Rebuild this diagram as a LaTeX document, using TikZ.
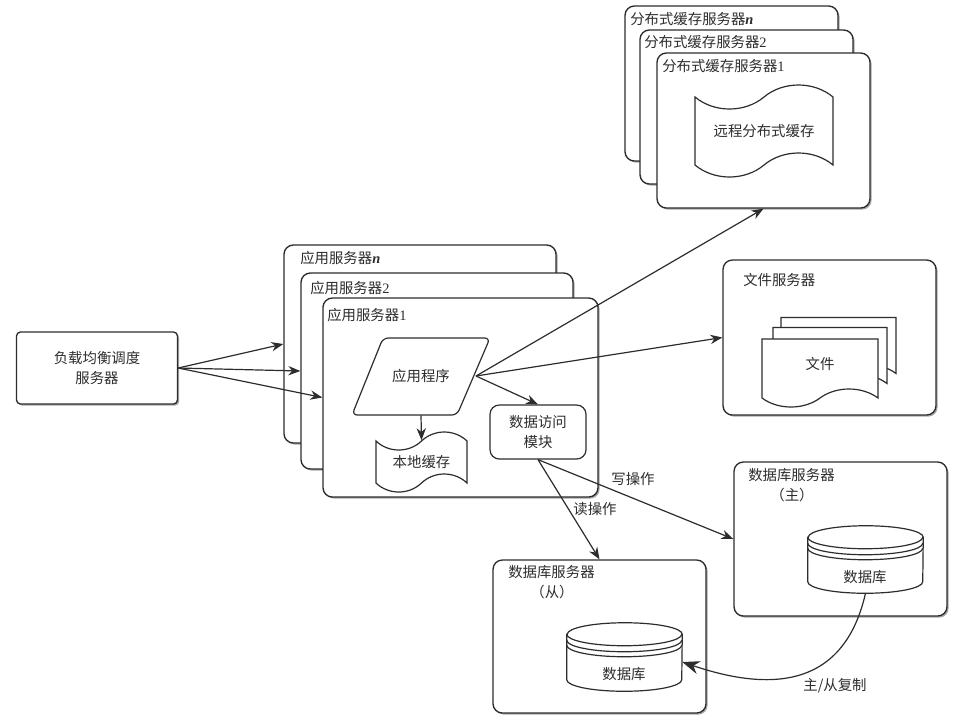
\documentclass[tikz,border=0pt]{standalone}
\usepackage{fontspec}
\setmainfont{Noto Sans CJK SC}
\newfontfamily\numfont{Liberation Serif}
\definecolor{inkgray}{RGB}{45, 45, 45}
\usetikzlibrary{shapes, shapes.symbols, arrows.meta, shadows}
\def\px{0.75pt}
\newcommand{\dbdrum}[1]{
  \draw[inkgray, fill=white, line width=.9pt] ([yshift=-11.5*\px]#1.north west) -- ([yshift=11.5*\px]#1.south west) arc[start angle=180, end angle=360, x radius=57.5*\px, y radius=11.5*\px] -- ([yshift=-11.5*\px]#1.north east) arc[start angle=0, end angle=180, x radius=57.5*\px, y radius=11.5*\px] -- cycle;
  \draw[inkgray, line width=.9pt] ([yshift=-11.5*\px]#1.north west) arc[start angle=180, end angle=360, x radius=57.5*\px, y radius=11.5*\px];
  \draw[inkgray, line width=.9pt] ([yshift=-17.5*\px]#1.north west) arc[start angle=180, end angle=360, x radius=57.5*\px, y radius=11.5*\px];
  \draw[inkgray, line width=.9pt] ([yshift=-22.5*\px]#1.north west) arc[start angle=180, end angle=360, x radius=57.5*\px, y radius=11.5*\px];
}
\tikzset{
  serverbox/.style={draw=inkgray, fill=white, line width=1pt, rounded corners=7pt, drop shadow={shadow xshift=1.2pt, shadow yshift=-1.2pt, fill=black, opacity=.35}},
  boxlabel/.style={anchor=west, inner sep=0pt, text=inkgray, font=\fontsize{10.8}{13}\selectfont},
  wavedoc/.style={tape, draw=inkgray, fill=white, line width=.9pt, tape bend height=18*\px, inner sep=0pt, text=inkgray, font=\fontsize{10.8}{13}\selectfont},
  dbdisk/.style={minimum width=115*\px, minimum height=67*\px, inner sep=0pt},
  linkarrow/.style={-{Stealth[length=9pt, width=7pt]}, draw=inkgray, line width=.9pt}
}
\begin{document}
\begin{tikzpicture}[x=0.75pt, y=-0.75pt]
  \useasboundingbox[fill=white] (0, 0) rectangle (956, 719);

  % Load balancer
  \node[serverbox, rounded corners=3pt, minimum width=161*\px, minimum height=72*\px, align=center, text=inkgray, font=\fontsize{10.8}{15.5}\selectfont] (balancer) at (97, 368) {负载均衡调度\\服务器};

  % Application servers
  \node[serverbox, minimum width=272*\px, minimum height=198*\px] (appn) at (420, 344) {};
  \node[boxlabel] (appnlabel) at (300, 258) {应用服务器{\numfont\bfseries\itshape n}};
  \node[serverbox, minimum width=272*\px, minimum height=196*\px] (apptwo) at (437, 371) {};
  \node[boxlabel] (apptwolabel) at (310, 288) {应用服务器{\numfont 2}};
  \node[serverbox, minimum width=275*\px, minimum height=199*\px] (appone) at (460.5, 397.5) {};
  \node[boxlabel] (apponelabel) at (327, 315) {应用服务器{\numfont 1}};
  \draw[inkgray, fill=white, line width=.9pt, rounded corners=4pt] (383, 338) -- (490, 338) -- (457, 415) -- (352, 415) -- cycle;
  \node[minimum width=138*\px, minimum height=77*\px, inner sep=0pt, text=inkgray, font=\fontsize{10.8}{13}\selectfont] (program) at (421, 376.5) {应用程序};
  \coordinate (programtip) at (476, 376);
  \node[wavedoc, minimum width=91*\px, minimum height=60*\px] (localcache) at (421.5, 462) {本地缓存};
  \node[draw=inkgray, fill=white, line width=.9pt, rounded corners=7pt, minimum width=96*\px, minimum height=54*\px, align=center, inner sep=0pt, text=inkgray, font=\fontsize{10.8}{14.5}\selectfont] (dataaccess) at (538, 432) {数据访问\\模块};

  % Distributed cache servers
  \node[serverbox, minimum width=213*\px, minimum height=155*\px] (cachen) at (731.5, 83.5) {};
  \node[boxlabel] (cachenlabel) at (630, 19) {分布式缓存服务器{\numfont\bfseries\itshape n}};
  \node[serverbox, minimum width=213*\px, minimum height=154*\px] (cachetwo) at (746.5, 107) {};
  \node[boxlabel] (cachetwolabel) at (644, 42) {分布式缓存服务器{\numfont 2}};
  \node[serverbox, minimum width=213*\px, minimum height=155*\px] (cacheone) at (763.5, 130.5) {};
  \node[boxlabel] (cacheonelabel) at (662, 66) {分布式缓存服务器{\numfont 1}};
  \node[wavedoc, minimum width=138*\px, minimum height=92*\px, tape bend height=24*\px] (remotecache) at (764, 131) {远程分布式缓存};

  % File server
  \node[serverbox, minimum width=213*\px, minimum height=155*\px] (fileserver) at (829.5, 337.5) {};
  \node[boxlabel] (fileserverlabel) at (743, 280) {文件服务器};
  \node[wavedoc, tape bend top=none, minimum width=115*\px, minimum height=65*\px] (filethree) at (838.5, 341) {};
  \node[wavedoc, tape bend top=none, minimum width=114*\px, minimum height=65*\px] (filetwo) at (830, 351) {};
  \node[wavedoc, tape bend top=none, minimum width=116*\px, minimum height=68*\px] (fileone) at (820, 364) {文件};

  % Database servers
  \node[serverbox, minimum width=213*\px, minimum height=154*\px] (dbmaster) at (840.5, 539) {};
  \node[boxlabel] (dbmasterlabel) at (748, 475) {数据库服务器};
  \node[boxlabel, anchor=center] (dbmasterrole) at (792, 495) {（主）};
  \node[dbdisk] (mastercyl) at (865.5, 559.5) {};
  \dbdrum{mastercyl}
  \node[boxlabel, anchor=center] (mastertext) at (865, 577) {数据库};

  \node[serverbox, minimum width=213*\px, minimum height=153*\px] (dbslave) at (599.5, 636.5) {};
  \node[boxlabel] (dbslavelabel) at (508, 572) {数据库服务器};
  \node[boxlabel, anchor=center] (dbslaverole) at (552, 592) {（从）};
  \node[dbdisk, minimum height=68*\px] (slavecyl) at (624.5, 657) {};
  \dbdrum{slavecyl}
  \node[boxlabel, anchor=center] (slavetext) at (624, 674) {数据库};

  % Connectors
  \draw[linkarrow] (balancer.east) -- (appn.west);
  \draw[linkarrow] (balancer.east) -- (apptwo.west);
  \draw[linkarrow] (balancer.east) -- (appone.west);
  \draw[linkarrow] (programtip) -- (cacheone.south);
  \draw[linkarrow] (programtip) -- (fileserver.west);
  \draw[linkarrow] (programtip) -- (dataaccess.north);
  \draw[linkarrow] (program.south) -- (localcache.north);
  \draw[linkarrow] (dataaccess.south) -- (dbslave.north);
  \draw[linkarrow] (dataaccess.south) -- (dbmaster.west);
  \draw[linkarrow, -{Stealth[length=13pt, width=10pt]}] (mastercyl.south) .. controls (843, 692) and (765, 690) .. ([yshift=-5*\px]slavecyl.east);

  % Link labels
  \node[boxlabel, anchor=center] (writelabel) at (633, 479) {写操作};
  \node[boxlabel, anchor=center] (readlabel) at (595, 509) {读操作};
  \node[boxlabel, anchor=center] (replicalabel) at (835, 686) {主/从复制};
\end{tikzpicture}
\end{document}
